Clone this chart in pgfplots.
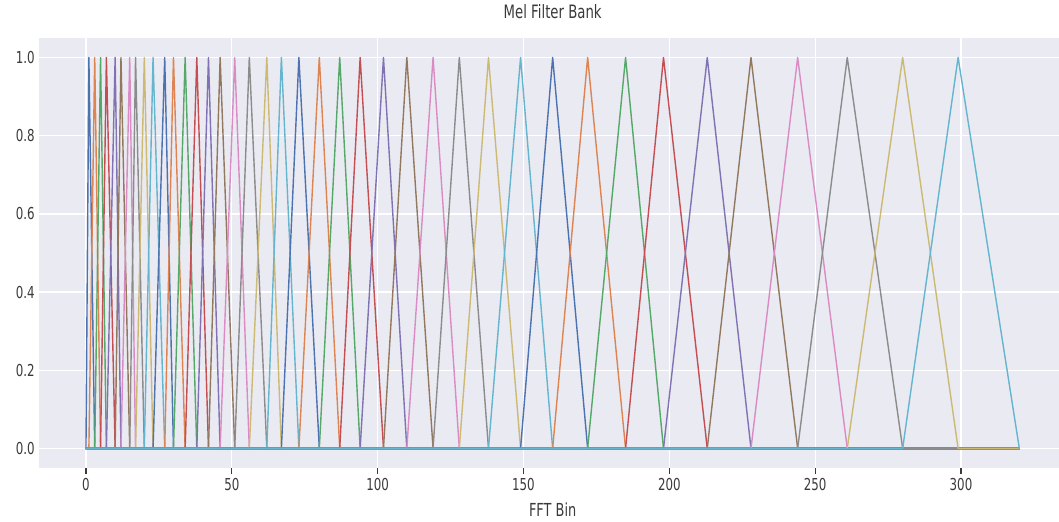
\documentclass[border=0pt]{standalone}
\usepackage{fontspec}
\setmainfont{DejaVu Sans}[FakeStretch=0.72]
\usepackage{pgfplots}
\pgfplotsset{compat=1.18}
\definecolor{c0}{HTML}{4C72B0}
\definecolor{c1}{HTML}{DD8452}
\definecolor{c2}{HTML}{55A868}
\definecolor{c3}{HTML}{C44E52}
\definecolor{c4}{HTML}{8172B3}
\definecolor{c5}{HTML}{937860}
\definecolor{c6}{HTML}{DA8BC3}
\definecolor{c7}{HTML}{8C8C8C}
\definecolor{c8}{HTML}{CCB974}
\definecolor{c9}{HTML}{64B5CD}
\definecolor{bgc}{HTML}{EAEAF2}
\definecolor{txt}{HTML}{3A3A3A}
\pgfplotscreateplotcyclelist{deep}{%
{c0,line width=1.4bp,line join=round},{c1,line width=1.4bp,line join=round},{c2,line width=1.4bp,line join=round},{c3,line width=1.4bp,line join=round},{c4,line width=1.4bp,line join=round},%
{c5,line width=1.4bp,line join=round},{c6,line width=1.4bp,line join=round},{c7,line width=1.4bp,line join=round},{c8,line width=1.4bp,line join=round},{c9,line width=1.4bp,line join=round}}
\begin{document}
\begin{tikzpicture}
\begin{axis}[
  at={(0,0)}, anchor=south west,
  scale only axis, width=1026.7bp, height=430bp,
  xmin=-16, xmax=336, ymin=-0.05, ymax=1.05,
  axis background/.style={fill=bgc},
  axis line style={draw=none},
  separate axis lines,
  grid=major, grid style={white, line width=1.3bp},
  xtick={0,50,100,150,200,250,300},
  ytick={0,0.2,0.4,0.6,0.8,1.0},
  xtick pos=lower, ytick pos=lower,
  yticklabel style={xshift=-1bp, /pgf/number format/fixed, /pgf/number format/fixed zerofill, /pgf/number format/precision=1},
  /pgf/number format/assume math mode=true,
  xtick align=outside,
  every tick/.style={draw=txt, line width=1.2bp},
  every y tick/.style={draw=none},
  major tick length=6bp,
  ticklabel style={font=\fontsize{16.5}{16.5}\selectfont, text=txt},
  xticklabel style={yshift=-1bp},
  title={Mel Filter Bank},
  title style={at={(0.5,1)}, anchor=base, yshift=14bp, font=\fontsize{18.5}{18.5}\selectfont, text=txt},
  xlabel={FFT Bin},
  xlabel style={at={(axis description cs:0.5,0)}, anchor=base, yshift=-48bp, font=\fontsize{18}{18}\selectfont, text=txt},
  cycle list name=deep,
  clip=true,
]
\addplot coordinates {(0,0) (0,0) (1,1) (3,0) (320,0)};
\addplot coordinates {(0,0) (1,0) (3,1) (5,0) (320,0)};
\addplot coordinates {(0,0) (3,0) (5,1) (7,0) (320,0)};
\addplot coordinates {(0,0) (5,0) (7,1) (10,0) (320,0)};
\addplot coordinates {(0,0) (7,0) (10,1) (12,0) (320,0)};
\addplot coordinates {(0,0) (10,0) (12,1) (15,0) (320,0)};
\addplot coordinates {(0,0) (12,0) (15,1) (17,0) (320,0)};
\addplot coordinates {(0,0) (15,0) (17,1) (20,0) (320,0)};
\addplot coordinates {(0,0) (17,0) (20,1) (23,0) (320,0)};
\addplot coordinates {(0,0) (20,0) (23,1) (27,0) (320,0)};
\addplot coordinates {(0,0) (23,0) (27,1) (30,0) (320,0)};
\addplot coordinates {(0,0) (27,0) (30,1) (34,0) (320,0)};
\addplot coordinates {(0,0) (30,0) (34,1) (38,0) (320,0)};
\addplot coordinates {(0,0) (34,0) (38,1) (42,0) (320,0)};
\addplot coordinates {(0,0) (38,0) (42,1) (46,0) (320,0)};
\addplot coordinates {(0,0) (42,0) (46,1) (51,0) (320,0)};
\addplot coordinates {(0,0) (46,0) (51,1) (56,0) (320,0)};
\addplot coordinates {(0,0) (51,0) (56,1) (62,0) (320,0)};
\addplot coordinates {(0,0) (56,0) (62,1) (67,0) (320,0)};
\addplot coordinates {(0,0) (62,0) (67,1) (73,0) (320,0)};
\addplot coordinates {(0,0) (67,0) (73,1) (80,0) (320,0)};
\addplot coordinates {(0,0) (73,0) (80,1) (87,0) (320,0)};
\addplot coordinates {(0,0) (80,0) (87,1) (94,0) (320,0)};
\addplot coordinates {(0,0) (87,0) (94,1) (102,0) (320,0)};
\addplot coordinates {(0,0) (94,0) (102,1) (110,0) (320,0)};
\addplot coordinates {(0,0) (102,0) (110,1) (119,0) (320,0)};
\addplot coordinates {(0,0) (110,0) (119,1) (128,0) (320,0)};
\addplot coordinates {(0,0) (119,0) (128,1) (138,0) (320,0)};
\addplot coordinates {(0,0) (128,0) (138,1) (149,0) (320,0)};
\addplot coordinates {(0,0) (138,0) (149,1) (160,0) (320,0)};
\addplot coordinates {(0,0) (149,0) (160,1) (172,0) (320,0)};
\addplot coordinates {(0,0) (160,0) (172,1) (185,0) (320,0)};
\addplot coordinates {(0,0) (172,0) (185,1) (198,0) (320,0)};
\addplot coordinates {(0,0) (185,0) (198,1) (213,0) (320,0)};
\addplot coordinates {(0,0) (198,0) (213,1) (228,0) (320,0)};
\addplot coordinates {(0,0) (213,0) (228,1) (244,0) (320,0)};
\addplot coordinates {(0,0) (228,0) (244,1) (261,0) (320,0)};
\addplot coordinates {(0,0) (244,0) (261,1) (280,0) (320,0)};
\addplot coordinates {(0,0) (261,0) (280,1) (299,0) (320,0)};
\addplot coordinates {(0,0) (280,0) (299,1) (320,0) (320,0)};
\end{axis}
\pgfresetboundingbox
\path (-39.3bp,-54bp) rectangle (1019.7bp,468bp);
\end{tikzpicture}
\end{document}
